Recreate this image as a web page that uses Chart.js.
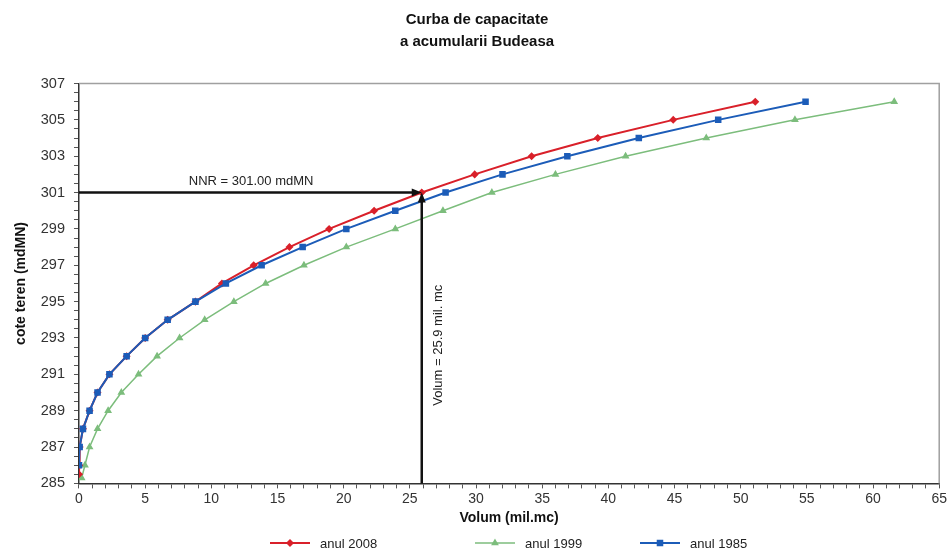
<!doctype html>
<html lang="ro">
    <head>
        <meta charset="UTF-8" />
        <title>Curba de capacitate a acumularii Budeasa</title>
        <script src="https://cdn.jsdelivr.net/npm/chart.js"></script>
        <style>
            html,
            body {
                margin: 0;
                padding: 0;
                background: #fff;
            }

            #wrap {
                width: 949px;
                height: 549px;
            }
        </style>
    </head>
    <body>
        <div id="wrap"><canvas id="chart"></canvas></div>

        <script>
            // cote (mdMN) si volume (mil.mc)
            const cote2008 = [285.5, 286, 287, 288, 289, 290, 291, 292, 293, 294, 295, 296, 297, 298, 299, 300, 301, 302, 303, 304, 305, 306];
            const volum2008 = [0, 0.02, 0.05, 0.3, 0.8, 1.4, 2.3, 3.6, 5.0, 6.7, 8.8, 10.8, 13.2, 15.9, 18.9, 22.3, 25.9, 29.9, 34.2, 39.2, 44.9, 51.1];

            const cote1999 = [285.3, 286, 287, 288, 289, 290, 291, 292, 293, 294, 295, 296, 297, 298, 299, 300, 301, 302, 303, 304, 305, 306];
            const volum1999 = [0.2, 0.45, 0.8, 1.4, 2.2, 3.2, 4.5, 5.9, 7.6, 9.5, 11.7, 14.1, 17.0, 20.2, 23.9, 27.5, 31.2, 36.0, 41.3, 47.4, 54.1, 61.6];

            const cote1985 = [286, 287, 288, 289, 290, 291, 292, 293, 294, 295, 296, 297, 298, 299, 300, 301, 302, 303, 304, 305, 306];
            const volum1985 = [0, 0.05, 0.3, 0.8, 1.4, 2.3, 3.6, 5.0, 6.7, 8.8, 11.1, 13.8, 16.9, 20.2, 23.9, 27.7, 32.0, 36.9, 42.3, 48.3, 54.9];

            const seriesLabels = ["anul 2008", "anul 1999", "anul 1985"];

            const nnrCota = 301.0;
            const nnrVolum = 25.9;
            const nnrText = "NNR = 301.00 mdMN";
            const volumText = "Volum = 25.9 mil. mc";

            /*** * * ***/

            const FONT = "'Liberation Sans', Arial, sans-serif";

            function toPoints(xs, ys) {
                return xs.map((x, i) => ({ x: x, y: ys[i] }));
            }

            function arrowHead(ctx, x, y, dir) {
                const len = 10;
                const half = 4;
                ctx.beginPath();
                if (dir === "right") {
                    ctx.moveTo(x, y);
                    ctx.lineTo(x - len, y - half);
                    ctx.lineTo(x - len, y + half);
                } else {
                    ctx.moveTo(x, y);
                    ctx.lineTo(x - half, y + len);
                    ctx.lineTo(x + half, y + len);
                }
                ctx.closePath();
                ctx.fill();
            }

            // chenar gri + sageti NNR + legenda
            const nnrPlugin = {
                id: "nnr",
                beforeDatasetsDraw(chart) {
                    const { ctx, chartArea: a } = chart;
                    ctx.save();
                    ctx.strokeStyle = "#a0a0a0";
                    ctx.lineWidth = 1.5;
                    ctx.beginPath();
                    ctx.moveTo(a.left, a.top);
                    ctx.lineTo(a.right, a.top);
                    ctx.lineTo(a.right, a.bottom);
                    ctx.stroke();
                    ctx.restore();
                },
                afterDatasetsDraw(chart) {
                    const { ctx, scales, chartArea: a } = chart;
                    const px = scales.x.getPixelForValue(nnrVolum);
                    const py = scales.y.getPixelForValue(nnrCota);
                    const y0 = scales.y.getPixelForValue(scales.y.min);

                    ctx.save();
                    ctx.strokeStyle = "#111";
                    ctx.fillStyle = "#111";
                    ctx.lineWidth = 2.5;

                    ctx.beginPath();
                    ctx.moveTo(a.left, py);
                    ctx.lineTo(px - 6, py);
                    ctx.stroke();
                    arrowHead(ctx, px, py, "right");

                    ctx.beginPath();
                    ctx.moveTo(px, y0);
                    ctx.lineTo(px, py + 6);
                    ctx.stroke();
                    arrowHead(ctx, px, py, "up");

                    ctx.font = "13px " + FONT;
                    ctx.fillStyle = "#222";
                    ctx.textBaseline = "bottom";
                    ctx.fillText(nnrText, scales.x.getPixelForValue(8.3), py - 5);

                    ctx.translate(px + 17, scales.y.getPixelForValue(292.6));
                    ctx.rotate(-Math.PI / 2);
                    ctx.textAlign = "center";
                    ctx.textBaseline = "middle";
                    ctx.fillText(volumText, 0, 0);
                    ctx.restore();
                },
                afterDraw(chart) {
                    const { ctx } = chart;
                    const items = [
                        { x: 270, ds: chart.data.datasets[0] },
                        { x: 475, ds: chart.data.datasets[1] },
                        { x: 640, ds: chart.data.datasets[2] },
                    ];
                    const y = 543;
                    ctx.save();
                    items.forEach((it) => {
                        ctx.strokeStyle = it.ds.borderColor;
                        ctx.fillStyle = it.ds.borderColor;
                        ctx.lineWidth = it.ds.borderWidth;
                        ctx.beginPath();
                        ctx.moveTo(it.x, y);
                        ctx.lineTo(it.x + 40, y);
                        ctx.stroke();
                        Chart.helpers.drawPoint(
                            ctx,
                            {
                                pointStyle: it.ds.pointStyle,
                                radius: it.ds.pointRadius,
                                rotation: 0,
                                borderWidth: 1,
                            },
                            it.x + 20,
                            y,
                        );
                        ctx.fillStyle = "#222";
                        ctx.font = "13px " + FONT;
                        ctx.textBaseline = "middle";
                        ctx.fillText(it.ds.label, it.x + 50, y + 1);
                    });
                    ctx.restore();
                },
            };

            new Chart(document.getElementById("chart"), {
                type: "scatter",
                data: {
                    datasets: [
                        {
                            label: seriesLabels[0],
                            data: toPoints(volum2008, cote2008),
                            showLine: true,
                            order: 1,
                            borderColor: "#d9202a",
                            backgroundColor: "#d9202a",
                            borderWidth: 2,
                            pointStyle: "rectRot",
                            pointRadius: 2.6,
                        },
                        {
                            label: seriesLabels[1],
                            data: toPoints(volum1999, cote1999),
                            showLine: true,
                            order: 2,
                            borderColor: "#7cbd7c",
                            backgroundColor: "#7cbd7c",
                            borderWidth: 1.5,
                            pointStyle: "triangle",
                            pointRadius: 3,
                        },
                        {
                            label: seriesLabels[2],
                            data: toPoints(volum1985, cote1985),
                            showLine: true,
                            order: 0,
                            borderColor: "#1c5cb8",
                            backgroundColor: "#1c5cb8",
                            borderWidth: 2,
                            pointStyle: "rect",
                            pointRadius: 3.2,
                        },
                    ],
                },
                options: {
                    responsive: true,
                    maintainAspectRatio: false,
                    animation: false,
                    layout: {
                        padding: { left: 13, right: 8, top: 7, bottom: 22 },
                    },
                    plugins: {
                        legend: { display: false },
                        tooltip: { enabled: false },
                        title: {
                            display: true,
                            text: ["Curba de capacitate", "a acumularii Budeasa"],
                            color: "#111",
                            font: { family: FONT, size: 15, weight: "bold", lineHeight: 1.45 },
                            padding: { top: 2, bottom: 31 },
                        },
                    },
                    scales: {
                        x: {
                            type: "linear",
                            min: 0,
                            max: 65,
                            grid: {
                                drawOnChartArea: false,
                                tickLength: 5,
                                color: "#555",
                            },
                            border: { color: "#333", width: 1.5 },
                            ticks: {
                                stepSize: 1,
                                autoSkip: false,
                                maxRotation: 0,
                                color: "#333",
                                font: { family: FONT, size: 14 },
                                padding: 2,
                                callback: (v) => (v % 5 === 0 ? v : ""),
                            },
                            title: {
                                display: true,
                                text: "Volum (mil.mc)",
                                color: "#111",
                                font: { family: FONT, size: 14, weight: "bold" },
                                padding: { top: 1, bottom: 0 },
                            },
                        },
                        y: {
                            type: "linear",
                            min: 285,
                            max: 307,
                            grid: {
                                drawOnChartArea: false,
                                tickLength: 5,
                                color: "#555",
                            },
                            border: { color: "#333", width: 1.5 },
                            ticks: {
                                stepSize: 0.5,
                                autoSkip: false,
                                color: "#333",
                                font: { family: FONT, size: 14.5 },
                                padding: 9,
                                callback: (v) =>
                                    Number.isInteger(v) && v % 2 === 1 ? v : "",
                            },
                            title: {
                                display: true,
                                text: "cote teren (mdMN)",
                                color: "#111",
                                font: { family: FONT, size: 14, weight: "bold" },
                                padding: { top: 0, bottom: 2 },
                            },
                        },
                    },
                },
                plugins: [nnrPlugin],
            });
        </script>
    </body>
</html>
